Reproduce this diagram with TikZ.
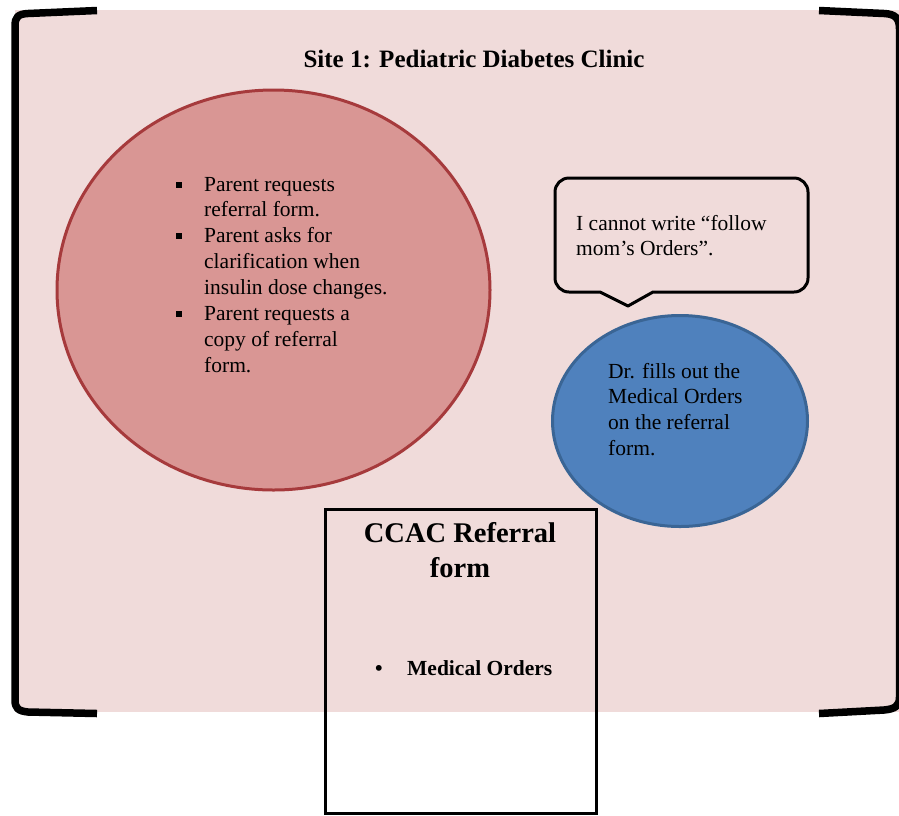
\documentclass[tikz,border=0pt]{standalone}
\usepackage{fontspec}
\setmainfont{Liberation Serif}
\usetikzlibrary{shapes.geometric}

\definecolor{clinicbg}{HTML}{F0DBDA}
\definecolor{parentfill}{HTML}{D99694}
\definecolor{parentline}{HTML}{A63A3C}
\definecolor{doctorfill}{HTML}{4F81BD}
\definecolor{doctorline}{HTML}{3A6595}

\tikzset{
  bracket/.style={line width=7.5pt, line cap=butt, line join=round},
  bubble/.style={draw=black, line width=3pt, line join=round},
  bodytext/.style={inner sep=0pt, anchor=base west, font=\fontsize{21.5}{25.9}\selectfont},
  oval/.style={ellipse, inner sep=0pt, line width=3pt},
}

\newcommand{\sqbullet}{\makebox[29pt][l]{\hspace*{1pt}\raisebox{3.5pt}{\rule{6pt}{6pt}}}}

\begin{document}
\begin{tikzpicture}[x=1pt, y=-1pt]
  \useasboundingbox (0,0) rectangle (899,815);

  % clinic area
  \fill[clinicbg] (15,10) rectangle (899,712);

  % framing brackets
  \draw[bracket] (97,10.5) -- (28,13.5) .. controls (18,14) and (15,17) .. (15,26)
                 -- (15,700) .. controls (15,708) and (18,711) .. (28,712) -- (97,713.5);
  \draw[bracket] (819,10.5) -- (884,13.5) .. controls (895,14) and (899.5,18) .. (899.5,29)
                 -- (899.5,697) .. controls (899.5,706) and (895,709) .. (884,710) -- (819,713.5);

  % title
  \node[inner sep=0pt, anchor=base, font=\bfseries\fontsize{25}{30}\selectfont]
       (title) at (474,67) {Site 1: Pediatric Diabetes Clinic};

  % parent actions
  \node[oval, draw=parentline, fill=parentfill,
        minimum width=433pt, minimum height=400pt] (parent) at (273.5,290) {};
  \node[bodytext] (parentlist) at (175,191) {%
    \begin{tabular}[t]{@{}l@{}l@{}}
      \sqbullet & Parent requests\\
                & referral form.\\
      \sqbullet & Parent asks for\\
                & clarification when\\
                & insulin dose changes.\\
      \sqbullet & Parent requests a\\
                & copy of referral\\
                & form.
    \end{tabular}};

  % doctor's speech bubble
  \draw[bubble, fill=clinicbg]
    (600,292) -- (569,292) arc[start angle=90, end angle=180, radius=14]
    -- (555,192) arc[start angle=180, end angle=270, radius=14]
    -- (794,178) arc[start angle=270, end angle=360, radius=14]
    -- (808,278) arc[start angle=0, end angle=90, radius=14]
    -- (653,292) -- (628,306) -- cycle;
  \node[bodytext] (quote) at (576,230) {%
    \begin{tabular}[t]{@{}l@{}}
      I cannot write “follow\\
      mom’s Orders”.
    \end{tabular}};

  % doctor's action
  \node[oval, draw=doctorline, fill=doctorfill,
        minimum width=255pt, minimum height=211pt] (doctor) at (680,421) {};
  \node[bodytext] (doctortext) at (608,378) {%
    \begin{tabular}[t]{@{}l@{}}
      Dr. fills out the\\
      Medical Orders\\
      on the referral\\
      form.
    \end{tabular}};

  % referral form
  \node[draw=black, line width=3pt, inner sep=0pt,
        minimum width=271pt, minimum height=304pt] (form) at (460.5,661) {};
  \node[inner sep=0pt, anchor=base, font=\bfseries\fontsize{28.5}{35}\selectfont]
       (formtitle) at (460,542) {%
    \begin{tabular}[t]{@{}c@{}}
      CCAC Referral\\
      form
    \end{tabular}};
  \node[bodytext, font=\bfseries\fontsize{21.5}{25.9}\selectfont]
       (orders) at (375,675) {\makebox[32pt][l]{•}Medical Orders};
\end{tikzpicture}
\end{document}
